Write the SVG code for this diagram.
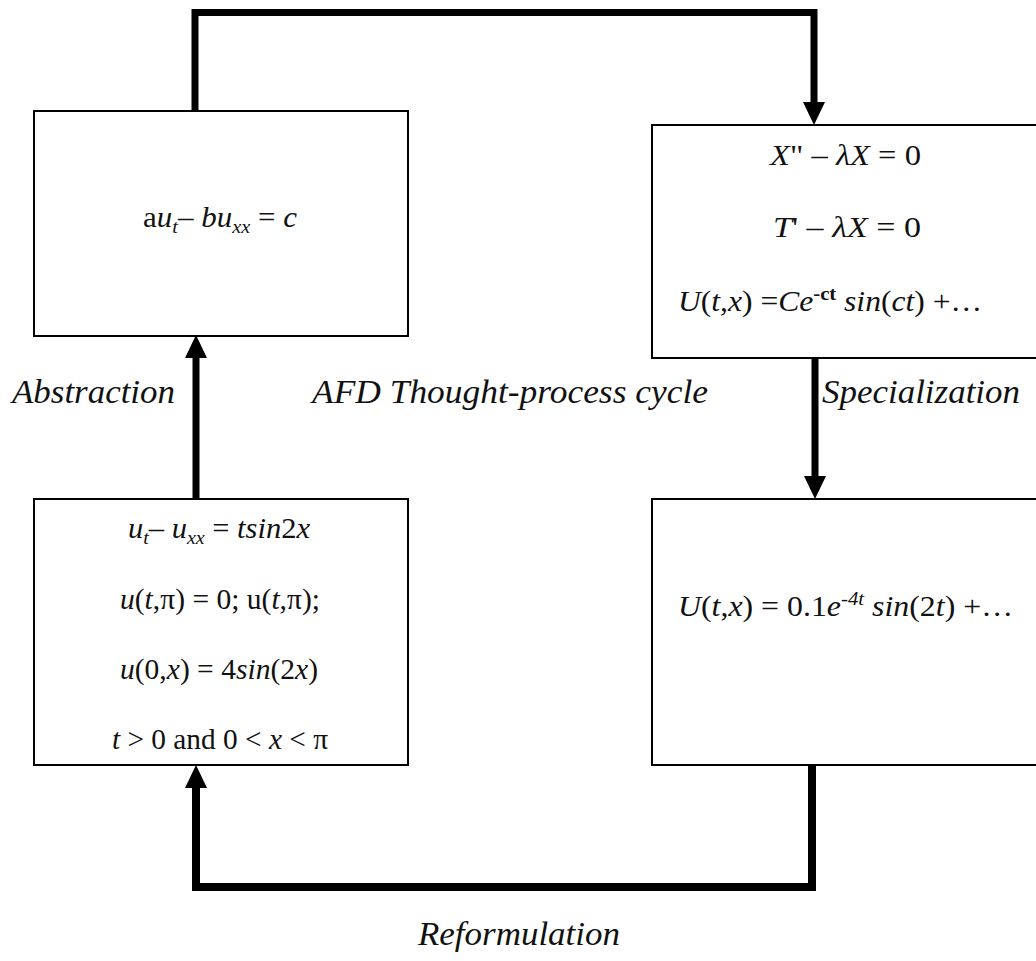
<svg xmlns="http://www.w3.org/2000/svg" width="1036" height="961" viewBox="0 0 1036 961">
<style>
.box{fill:#fff;stroke:#000;stroke-width:2}
.t{font-family:"Liberation Serif","Times New Roman",serif;font-size:29px;fill:#111}
.lbl{font-family:"Liberation Serif","Times New Roman",serif;font-size:34px;font-style:italic;fill:#111}
.i{font-style:italic}
.s{font-size:19px}
.c{fill:none;stroke:#000;stroke-linejoin:miter}
</style>
<defs>
<marker id="ah" markerUnits="userSpaceOnUse" markerWidth="24" markerHeight="24" viewBox="0 -12 24 24" refX="0" refY="0" orient="auto">
<path d="M0,-11 L23,0 L0,11 Z" fill="#000"/>
</marker>
</defs>
<rect width="1036" height="961" fill="#fff"/>
<g id="connectors">
<path class="c" d="M195,112 V12.5 H814 V102" stroke-width="7" marker-end="url(#ah)"/>
<path class="c" d="M196,498 V358" stroke-width="7" marker-end="url(#ah)"/>
<path class="c" d="M815,359 V476" stroke-width="7" marker-end="url(#ah)"/>
<path class="c" d="M812,766 V887 H196 V788" stroke-width="8" marker-end="url(#ah)"/>
</g>
<g id="node-general">
<rect class="box" x="34" y="111" width="374" height="225"/>
<text class="t" x="143" y="227" textLength="154" lengthAdjust="spacingAndGlyphs">a<tspan class="i">u</tspan><tspan class="i s" dy="6">t</tspan><tspan dy="-6">– </tspan><tspan class="i">bu</tspan><tspan class="i s" dy="6">xx</tspan><tspan dy="-6"> = </tspan><tspan class="i">c</tspan></text>
</g>
<g id="node-method">
<rect class="box" x="652" y="125" width="390" height="233"/>
<text class="t" x="770" y="165" textLength="151" lengthAdjust="spacingAndGlyphs"><tspan class="i">X</tspan>" – <tspan class="i">λX</tspan> = 0</text>
<text class="t" x="773" y="237" textLength="148" lengthAdjust="spacingAndGlyphs"><tspan class="i">T</tspan>' – <tspan class="i">λX</tspan>  = 0</text>
<text class="t" x="678" y="311" textLength="304" lengthAdjust="spacingAndGlyphs"><tspan class="i">U</tspan>(<tspan class="i">t</tspan>,<tspan class="i">x</tspan>) =<tspan class="i">Ce</tspan><tspan class="s" font-weight="bold" dy="-11">-ct</tspan><tspan dy="11"> </tspan><tspan class="i">sin</tspan>(<tspan class="i">ct</tspan>) +…</text>
</g>
<g id="node-problem">
<rect class="box" x="34" y="499" width="374" height="266"/>
<text class="t" x="128" y="538" textLength="182" lengthAdjust="spacingAndGlyphs"><tspan class="i">u</tspan><tspan class="i s" dy="6">t</tspan><tspan dy="-6">– </tspan><tspan class="i">u</tspan><tspan class="i s" dy="6">xx</tspan><tspan dy="-6"> = </tspan><tspan class="i">tsin</tspan>2<tspan class="i">x</tspan></text>
<text class="t" x="120" y="609" textLength="200" lengthAdjust="spacingAndGlyphs"><tspan class="i">u</tspan>(<tspan class="i">t</tspan>,π) = 0; u(<tspan class="i">t</tspan>,π);</text>
<text class="t" x="120" y="679" textLength="198" lengthAdjust="spacingAndGlyphs"><tspan class="i">u</tspan>(0,<tspan class="i">x</tspan>) = 4<tspan class="i">sin</tspan>(2<tspan class="i">x</tspan>)</text>
<text class="t" x="112" y="749" textLength="216" lengthAdjust="spacingAndGlyphs"><tspan class="i">t</tspan> &gt; 0 and 0 &lt; <tspan class="i">x</tspan> &lt; π</text>
</g>
<g id="node-solution">
<rect class="box" x="652" y="499" width="390" height="266"/>
<text class="t" x="678" y="616" textLength="335" lengthAdjust="spacingAndGlyphs"><tspan class="i">U</tspan>(<tspan class="i">t</tspan>,<tspan class="i">x</tspan>) = 0.1<tspan class="i">e</tspan><tspan class="i s" dy="-11">-4t</tspan><tspan dy="11"> </tspan><tspan class="i">sin</tspan>(2<tspan class="i">t</tspan>) +…</text>
</g>
<g id="labels">
<text class="lbl" x="12" y="403" textLength="163" lengthAdjust="spacingAndGlyphs">Abstraction</text>
<text class="lbl" x="312" y="403" textLength="396" lengthAdjust="spacingAndGlyphs">AFD Thought-process cycle</text>
<text class="lbl" x="822" y="403" textLength="198" lengthAdjust="spacingAndGlyphs">Specialization</text>
<text class="lbl" x="418" y="945" textLength="202" lengthAdjust="spacingAndGlyphs">Reformulation</text>
</g>
</svg>
